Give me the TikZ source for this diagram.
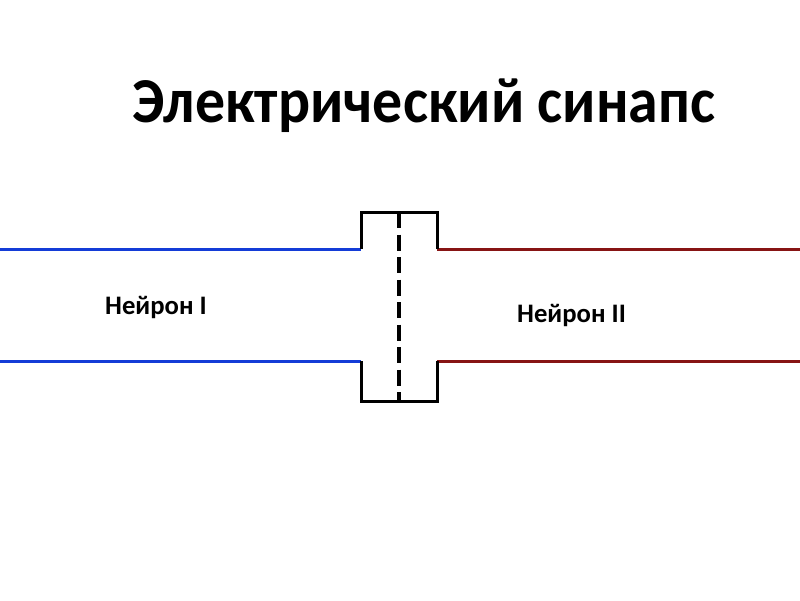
\documentclass[tikz,border=0pt]{standalone}
\usepackage{fontspec}
\setmainfont{Carlito}
\definecolor{nblue}{RGB}{20,60,215}
\definecolor{nred}{RGB}{135,20,20}
\tikzset{
  axon/.style={line width=3pt},
  membrane/.style={line width=3pt, black},
  channel/.style={line width=3.5pt, black, dash pattern=on 16pt off 6.5pt},
  lbl/.style={anchor=base west, inner sep=0pt, font=\bfseries\fontsize{26.7}{30}\selectfont},
}
\begin{document}
\begin{tikzpicture}[x=1pt,y=-1pt]
\useasboundingbox (0,0) rectangle (800,600);
\fill[white] (0,0) rectangle (800,600);
\node[anchor=base, inner sep=0pt, font=\bfseries\fontsize{64}{70}\selectfont] (title) at (424,122) {\scalebox{0.935}[1]{Электрический синапс}};
\coordinate (lt) at (0,249);
\coordinate (lb) at (0,361);
\coordinate (rt) at (800,249);
\coordinate (rb) at (800,361);
\coordinate (a1) at (361,249);
\coordinate (a2) at (361,212);
\coordinate (a3) at (437,212);
\coordinate (a4) at (437,249);
\coordinate (b1) at (361,361);
\coordinate (b2) at (361,401);
\coordinate (b3) at (437,401);
\coordinate (b4) at (437,361);
\coordinate (gt) at (399,212);
\coordinate (gb) at (399,401);
\draw[axon, nblue] (lt) -- (a1);
\draw[axon, nblue] (lb) -- (b1);
\draw[axon, nred] (a4) -- (rt);
\draw[axon, nred] (b4) -- (rb);
\draw[membrane, line join=miter] (a1) -- (a2) -- (a3) -- (a4);
\draw[membrane, line join=miter] (b1) -- (b2) -- (b3) -- (b4);
\draw[channel] (gt) -- (gb);
\node[lbl] (n1) at (105,314) {Нейрон I};
\node[lbl] (n2) at (517,322) {Нейрон II};
\end{tikzpicture}
\end{document}
